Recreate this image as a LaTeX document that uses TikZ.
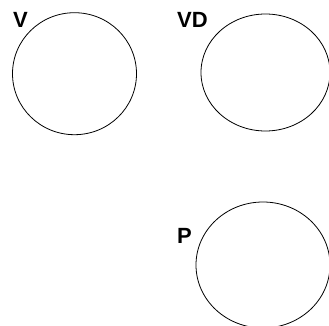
\documentclass[tikz,border=0pt]{standalone}
\usepackage{fontspec}
\setmainfont{Liberation Sans}
\begin{document}
\begin{tikzpicture}[x=1pt,y=-1pt,
  ring/.style={draw=black,line width=0.8pt},
  lbl/.style={anchor=base west,inner sep=0pt,font=\fontsize{22}{24}\selectfont\bfseries}]
\useasboundingbox (0,0) rectangle (329,326);
\begin{scope}
\clip (0,0) rectangle (329,326);
\draw[ring] (74.5,73.7) ellipse [x radius=62, y radius=61];
\draw[ring] (265.5,72.5) ellipse [x radius=64.5, y radius=58.5];
\draw[ring] (263,265) ellipse [x radius=67, y radius=63];
\end{scope}
\node[lbl] (v) at (13,28) {V};
\node[lbl] (vd) at (177,28) {VD};
\node[lbl] (p) at (177,243) {P};
\end{tikzpicture}
\end{document}
